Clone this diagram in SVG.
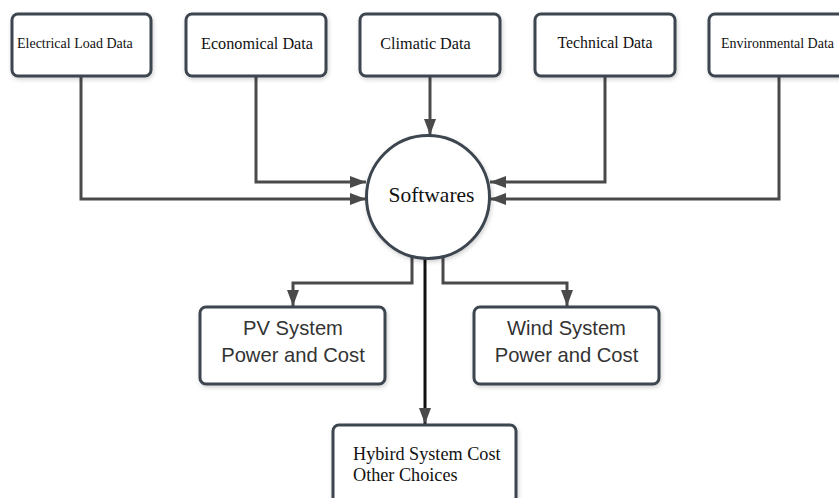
<svg xmlns="http://www.w3.org/2000/svg" width="839" height="498" viewBox="0 0 839 498">
  <defs>
    <filter id="shadow" x="-10%" y="-10%" width="130%" height="140%">
      <feDropShadow dx="1" dy="2" stdDeviation="2" flood-color="#000" flood-opacity="0.18"/>
    </filter>
    <marker id="arrow" markerUnits="userSpaceOnUse" markerWidth="16" markerHeight="12" refX="16" refY="6" orient="auto">
      <path d="M0,0 L16,6 L0,12 Z" fill="#4a4a4a"/>
    </marker>
    <style>
      .box { fill: #fff; stroke: #3c4550; stroke-width: 3; filter: url(#shadow); }
      .wire { fill: none; stroke: #4a4a4a; stroke-width: 3; marker-end: url(#arrow); }
      .wire-main { fill: none; stroke: #111; stroke-width: 3; marker-end: url(#arrow); }
      .serif { font-family: "Liberation Serif", "Times New Roman", serif; fill: #111; }
      .sans { font-family: "Liberation Sans", Arial, sans-serif; fill: #333; font-size: 20.2px; text-anchor: middle; }
    </style>
  </defs>

  <rect width="839" height="498" fill="#fff"/>

  <!-- connectors -->
  <g id="connectors">
    <polyline class="wire" points="81,77 81,199 366,199"/>
    <polyline class="wire" points="256,77 256,182 366,182"/>
    <polyline class="wire" points="430,77 430,135"/>
    <polyline class="wire" points="605,77 605,182 490,182"/>
    <polyline class="wire" points="779,77 779,199 490,199"/>
    <polyline class="wire" points="412,256 412,283 293,283 293,306"/>
    <polyline class="wire" points="443,256 443,283 567,283 567,306"/>
    <polyline class="wire-main" points="425,259 425,424"/>
  </g>

  <!-- input data nodes -->
  <g id="electrical-load">
    <rect class="box" x="12" y="14" width="139" height="62" rx="6"/>
    <text class="serif" x="17" y="48" font-size="14">Electrical Load Data</text>
  </g>
  <g id="economical">
    <rect class="box" x="186" y="14" width="140" height="62" rx="6"/>
    <text class="serif" x="257" y="49" font-size="16.2" text-anchor="middle">Economical Data</text>
  </g>
  <g id="climatic">
    <rect class="box" x="360" y="14" width="140" height="62" rx="6"/>
    <text class="serif" x="425.5" y="49" font-size="16.2" text-anchor="middle">Climatic Data</text>
  </g>
  <g id="technical">
    <rect class="box" x="535" y="14" width="140" height="62" rx="6"/>
    <text class="serif" x="605" y="48" font-size="15.8" text-anchor="middle">Technical Data</text>
  </g>
  <g id="environmental">
    <rect class="box" x="709" y="14" width="140" height="62" rx="6"/>
    <text class="serif" x="777.5" y="48" font-size="14" text-anchor="middle">Environmental Data</text>
  </g>

  <!-- central node -->
  <g id="softwares">
    <circle class="box" cx="428" cy="197" r="61.5"/>
    <text class="serif" x="431.5" y="202" font-size="21.5" text-anchor="middle">Softwares</text>
  </g>

  <!-- output nodes -->
  <g id="pv-system">
    <rect class="box" x="200" y="307" width="185" height="77" rx="6"/>
    <text class="sans" x="293" y="335">PV System</text>
    <text class="sans" x="293" y="362">Power and Cost</text>
  </g>
  <g id="wind-system">
    <rect class="box" x="474" y="307" width="185" height="77" rx="6"/>
    <text class="sans" x="566.5" y="335">Wind System</text>
    <text class="sans" x="566.5" y="362">Power and Cost</text>
  </g>
  <g id="hybrid-system">
    <rect class="box" x="333" y="425" width="183" height="90" rx="6"/>
    <text class="serif" x="353" y="460" font-size="18.2">Hybird System Cost</text>
    <text class="serif" x="353" y="481" font-size="18.2">Other Choices</text>
  </g>
</svg>
